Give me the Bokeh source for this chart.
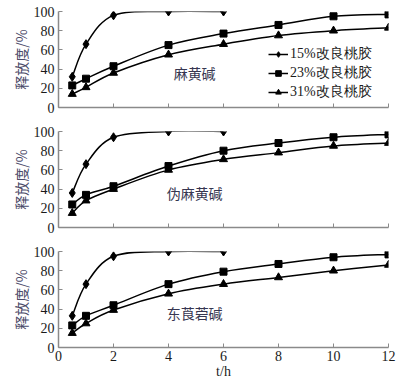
from bokeh.plotting import figure
from bokeh.layouts import column
from bokeh.models import Legend, LegendItem, Label, FixedTicker, ColumnDataSource
from bokeh.embed import file_html
from bokeh.resources import INLINE

# ---- data ----
t_short = [0.5, 1, 2, 4, 6]
t_long = [0.5, 1, 2, 4, 6, 8, 10, 12]
series_names = ["15%改良桃胶", "23%改良桃胶", "31%改良桃胶"]
panel_titles = ["麻黄碱", "伪麻黄碱", "东莨菪碱"]

ma_15 = [32, 66, 96, 100, 100]
ma_23 = [23, 30, 43, 65, 77, 86, 95, 97]
ma_31 = [14, 21, 36, 55, 66, 75, 80, 83]

wei_15 = [36, 66, 94, 100, 100]
wei_23 = [24, 34, 43, 64, 80, 88, 94, 97]
wei_31 = [15, 28, 40, 60, 71, 78, 85, 88]

dong_15 = [33, 66, 95, 100, 100]
dong_23 = [23, 33, 44, 66, 79, 87, 94, 97]
dong_31 = [15, 25, 39, 56, 66, 73, 80, 86]

x_ticks = [0, 2, 4, 6, 8, 10, 12]
y_ticks = [0, 20, 40, 60, 80, 100]

SERIF = "Liberation Serif"
CJK = "Noto Sans CJK SC"


def smooth_segments(xs, ys, k=1.0 / 6):
    n = len(xs)
    out = dict(x0=[], y0=[], x1=[], y1=[], cx0=[], cy0=[], cx1=[], cy1=[])
    for i in range(n - 1):
        xa, ya = (xs[i - 1], ys[i - 1]) if i > 0 else (xs[i], ys[i])
        xd, yd = (xs[i + 2], ys[i + 2]) if i + 2 < n else (xs[i + 1], ys[i + 1])
        out["x0"].append(xs[i]); out["y0"].append(ys[i])
        out["x1"].append(xs[i + 1]); out["y1"].append(ys[i + 1])
        out["cx0"].append(xs[i] + (xs[i + 1] - xa) * k)
        out["cy0"].append(ys[i] + (ys[i + 1] - ya) * k)
        out["cx1"].append(xs[i + 1] - (xd - xs[i]) * k)
        out["cy1"].append(ys[i + 1] - (yd - ys[i]) * k)
    return out


markers = ["diamond", "square", "triangle"]
msizes = [9, 7, 8]


def make_panel(title, d15, d23, d31, top, bottom, last, legend=False):
    h = top + 96 + bottom
    p = figure(width=408, height=h, x_range=(0, 12), y_range=(0, 100),
               output_backend="svg", toolbar_location=None,
               min_border_left=58, min_border_right=20,
               min_border_top=top, min_border_bottom=bottom)
    p.grid.visible = False
    p.outline_line_color = None
    p.background_fill_color = "white"

    for ax in (p.xaxis[0], p.yaxis[0]):
        ax.axis_line_color = "#8a8a8a"
        ax.axis_line_width = 1.5
        ax.major_tick_line_color = "#8a8a8a"
        ax.major_tick_in = 4
        ax.major_tick_out = 0
        ax.minor_tick_line_color = None
        ax.major_label_text_font = SERIF
        ax.major_label_text_font_size = "14px"
        ax.major_label_text_color = "#1a1a1a"
    p.xaxis.ticker = FixedTicker(ticks=x_ticks)
    p.yaxis.ticker = FixedTicker(ticks=y_ticks)
    p.yaxis.major_label_standoff = 4
    p.yaxis.axis_label = "释放度/%"
    p.yaxis.axis_label_text_font = CJK
    p.yaxis.axis_label_text_font_size = "14px"
    p.yaxis.axis_label_text_font_style = "normal"
    p.yaxis.axis_label_text_color = "#4a4a68"
    p.yaxis.axis_label_standoff = 0
    if last:
        p.xaxis.major_label_standoff = 3
        p.xaxis.axis_label = "t/h"
        p.xaxis.axis_label_text_font = SERIF
        p.xaxis.axis_label_text_font_size = "14px"
        p.xaxis.axis_label_text_font_style = "normal"
        p.xaxis.axis_label_text_color = "#1a1a1a"
        p.xaxis.axis_label_standoff = 0
    else:
        p.xaxis.major_label_overrides = {t: "" for t in x_ticks}

    items = []
    for name, xs, ys, mk, ms in zip(series_names, [t_short, t_long, t_long], [d15, d23, d31], markers, msizes):
        seg = smooth_segments(xs, ys)
        br = p.bezier(x0="x0", y0="y0", x1="x1", y1="y1", cx0="cx0", cy0="cy0", cx1="cx1", cy1="cy1",
                      source=ColumnDataSource(seg), line_color="black", line_width=1.5)
        sr = p.scatter(xs, ys, marker=mk, size=ms, color="black")
        items.append(LegendItem(label=name, renderers=[br, sr], index=0))

    p.add_layout(Label(x=4.95, y=36, text=title, text_font=CJK, text_font_size="14px",
                       text_color="#363650", text_align="center", text_baseline="middle"))

    if legend:
        lg = Legend(items=items, location=(210, 6), orientation="vertical",
                    background_fill_alpha=0, border_line_color=None, padding=0, margin=0,
                    spacing=1, glyph_width=20, glyph_height=14, label_height=14,
                    label_standoff=2, label_text_font_size="14px", label_text_font=SERIF,
                    label_text_color="#1a1a1a")
        p.add_layout(lg, "center")
    return p


p1 = make_panel(panel_titles[0], ma_15, ma_23, ma_31, 11, 13, False, legend=True)
p2 = make_panel(panel_titles[1], wei_15, wei_23, wei_31, 11, 13, False)
p3 = make_panel(panel_titles[2], dong_15, dong_23, dong_31, 11, 36, True)

layout = column(p1, p2, p3, spacing=0)
open("out.html", "w").write(file_html(layout, INLINE))
